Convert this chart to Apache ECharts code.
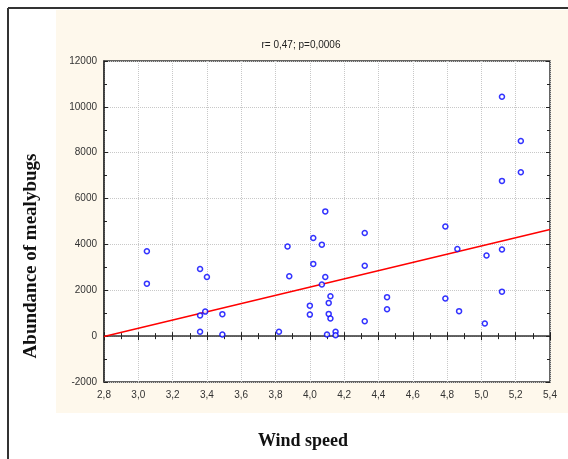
<!DOCTYPE html>
<html>
<head>
<meta charset="utf-8">
<script src="https://cdn.jsdelivr.net/npm/echarts@6/dist/echarts.min.js"></script>
<style>
  html, body { margin: 0; padding: 0; background: #fff; }
  #main { width: 568px; height: 459px; }
</style>
</head>
<body>
<div id="main"></div>
<script>
// wind speed vs abundance
var windSpeed = [3.05, 3.05, 3.36, 3.40, 3.36, 3.39, 3.49, 3.36, 3.49, 4.02, 4.32, 4.07, 3.87, 4.02, 4.32,
  3.88, 4.09, 4.07, 4.12, 4.11, 4.00, 4.00, 4.11, 4.12, 4.32, 3.82, 4.10, 4.15, 4.15, 4.45, 4.45,
  4.79, 4.86, 5.03, 5.12, 4.79, 4.87, 5.02, 5.12, 5.12, 5.23, 5.23, 5.12, 4.09];
var abundance = [3700, 2290, 2930, 2580, 900, 1070, 960, 190, 70, 4280, 4500, 3990, 3910, 3150, 3070,
  2610, 2580, 2250, 1740, 1450, 1330, 940, 970, 770, 650, 190, 70, 190, 40, 1700, 1170,
  4780, 3800, 3520, 3780, 1640, 1090, 550, 1940, 10440, 8510, 7150, 6770, 5440];
// fitted line endpoints
var fitX = [2.8, 5.4];
var fitY = [-20, 4650];

var titleText = 'r= 0,47; p=0,0006';
var xName = 'Wind speed';
var yName = 'Abundance of mealybugs';

var myChart = echarts.init(document.getElementById('main'));

var labelStyle = { color: '#333', fontFamily: 'Arial, Liberation Sans', fontSize: 10 };
var tickStyle = { show: true, inside: true, length: 4, lineStyle: { color: '#222' } };
var minor = { show: true, splitNumber: 2, length: 3, lineStyle: { color: '#222' } };
var grid = { type: 'dotted', color: '#c8c8c8', width: 1 };

var option = {
  animation: false,
  backgroundColor: '#fff',
  graphic: [
    { type: 'rect', shape: { x: 56, y: 10, width: 520, height: 403 }, style: { fill: '#fef8ec' }, z: -10 },
    { type: 'line', shape: { x1: 8, y1: 8, x2: 568, y2: 8 }, style: { stroke: '#333', lineWidth: 2 } },
    { type: 'line', shape: { x1: 8, y1: 8, x2: 8, y2: 459 }, style: { stroke: '#333', lineWidth: 2 } },
    { type: 'text', x: 301, y: 45, style: { text: titleText, font: '10px Arial, Liberation Sans', fill: '#222', align: 'center', verticalAlign: 'middle' } },
    { type: 'text', x: 303, y: 441, style: { text: xName, font: 'bold 18px "Times New Roman", "Liberation Serif"', fill: '#111', align: 'center', verticalAlign: 'middle' } },
    { type: 'text', x: 31, y: 256, rotation: Math.PI / 2, style: { text: yName, font: 'bold 19px "Times New Roman", "Liberation Serif"', fill: '#111', align: 'center', verticalAlign: 'middle' } }
  ],
  grid: {
    left: 104, top: 61, right: 18, bottom: 77,
    show: true, backgroundColor: '#fff', borderColor: '#333', borderWidth: 1.5
  },
  xAxis: [
    {
      type: 'value', min: 2.8, max: 5.4, interval: 0.2,
      axisLine: { show: true, lineStyle: { color: '#333', width: 1.5 } },
      axisTick: tickStyle, minorTick: minor,
      axisLabel: Object.assign({ margin: 8, formatter: function (v) { return v.toFixed(1).replace('.', ','); } }, labelStyle),
      splitLine: { show: true, lineStyle: grid }
    },
    {
      type: 'value', position: 'top', min: 2.8, max: 5.4, interval: 0.2,
      axisLine: { show: false }, axisTick: tickStyle, minorTick: minor,
      axisLabel: { show: false }, splitLine: { show: false }
    }
  ],
  yAxis: [
    {
      type: 'value', min: -2000, max: 12000, interval: 2000,
      axisLine: { show: true, lineStyle: { color: '#333', width: 1.5 } },
      axisTick: tickStyle, minorTick: minor,
      axisLabel: Object.assign({ margin: 7, formatter: function (v) { return String(v); } }, labelStyle),
      splitLine: { show: true, lineStyle: grid }
    },
    {
      type: 'value', position: 'right', min: -2000, max: 12000, interval: 2000,
      axisLine: { show: false }, axisTick: tickStyle, minorTick: minor,
      axisLabel: { show: false }, splitLine: { show: false }
    }
  ],
  series: [
    {
      type: 'line',
      data: fitX.map(function (x, i) { return [x, fitY[i]]; }),
      showSymbol: false, symbol: 'none',
      lineStyle: { color: '#ff0000', width: 1.5 },
      z: 2
    },
    {
      type: 'scatter',
      data: windSpeed.map(function (x, i) { return [x, abundance[i]]; }),
      symbol: 'circle', symbolSize: 5,
      itemStyle: { color: '#fff', borderColor: '#0000ff', borderWidth: 1.5 },
      z: 3
    }
  ]
};

myChart.setOption(option);
</script>
</body>
</html>
